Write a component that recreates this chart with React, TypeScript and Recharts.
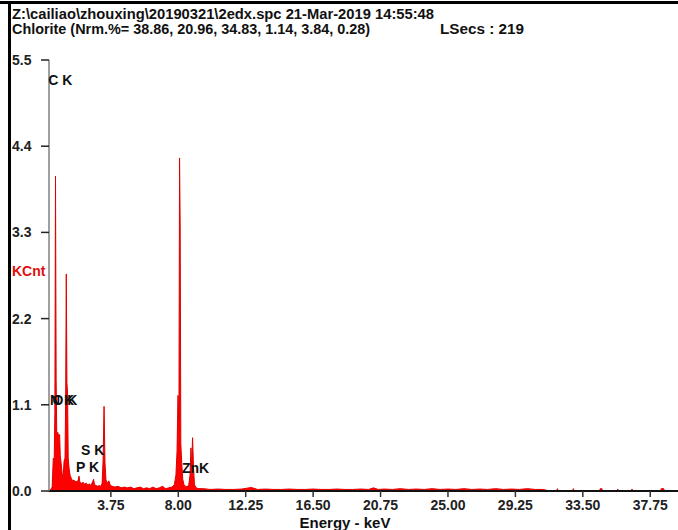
import React from 'react';
import { AreaChart, Area, XAxis, YAxis, ReferenceDot } from 'recharts';

// Energy (keV) and counts (KCnt)
const energy = [
  -0.1, 0.05, 0.12, 0.18, 0.22, 0.26, 0.3, 0.34, 0.4, 0.46, 0.52, 0.56, 0.6, 0.64, 0.68, 0.74,
  0.8, 0.86, 0.9, 0.94, 0.98, 1.02, 1.06, 1.12, 1.18, 1.26, 1.34, 1.42, 1.5, 1.62, 1.7, 1.74,
  1.8, 1.9, 2.0, 2.1, 2.2, 2.3, 2.4, 2.5, 2.6, 2.66, 2.72, 2.82, 2.92, 3.02, 3.12, 3.2,
  3.26, 3.32, 3.38, 3.44, 3.52, 3.62, 3.72, 3.85, 4.0, 4.2, 4.4, 4.6, 4.8, 5.0, 5.2, 5.4,
  5.6, 5.8, 6.0, 6.2, 6.4, 6.6, 6.8, 7.0, 7.2, 7.4, 7.6, 7.75, 7.85, 7.92, 7.98, 8.04,
  8.08, 8.12, 8.16, 8.22, 8.28, 8.36, 8.46, 8.56, 8.66, 8.74, 8.8, 8.84, 8.9, 8.96, 9.02, 9.12,
  9.3, 9.6, 10.0, 10.5, 11.0, 11.5, 12.0, 12.6, 13.0, 13.5, 14.0, 14.5, 15.0, 15.5, 16.0, 16.5,
  17.0, 17.5, 18.0, 18.5, 19.0, 19.5, 20.0, 20.3, 20.6, 21.0, 21.5, 22.0, 22.5, 23.0, 23.5, 24.0,
  24.5, 25.0, 25.5, 26.0, 26.5, 27.0, 27.5, 28.0, 28.5, 29.0, 29.5, 30.0, 30.5, 31.0, 31.2, 31.3,
  31.85, 31.9, 31.95, 32.85, 32.9, 32.95, 34.55, 34.6, 34.7, 34.75, 35.65, 35.7, 35.75, 36.55, 36.6, 36.65,
  38.4, 38.45, 38.6, 38.65, 39.5,
];
const counts = [
  0, 0.05, 0.42, 0.4, 1.0, 4.02, 1.42, 0.72, 0.75, 0.7, 0.72, 0.45, 0.38, 0.3, 0.22, 0.16,
  0.38, 0.42, 1.2, 2.77, 1.38, 1.25, 0.42, 0.28, 0.2, 0.16, 0.13, 0.14, 0.12, 0.12, 0.14, 0.19,
  0.11, 0.1, 0.11, 0.09, 0.1, 0.08, 0.09, 0.07, 0.12, 0.15, 0.08, 0.07, 0.06, 0.07, 0.06, 0.1,
  0.4, 1.08, 0.36, 0.14, 0.1, 0.13, 0.07, 0.06, 0.05, 0.06, 0.04, 0.05, 0.04, 0.05, 0.03, 0.04,
  0.05, 0.03, 0.04, 0.03, 0.05, 0.03, 0.04, 0.06, 0.03, 0.04, 0.05, 0.08, 0.2, 0.5, 1.22, 0.9,
  4.25, 3.36, 0.6, 0.35, 0.15, 0.08, 0.06, 0.05, 0.08, 0.2, 0.55, 0.3, 0.68, 0.3, 0.08, 0.04,
  0.03, 0.03, 0.02, 0.025, 0.02, 0.02, 0.025, 0.045, 0.02, 0.025, 0.02, 0.02, 0.025, 0.02, 0.02, 0.025,
  0.02, 0.02, 0.025, 0.02, 0.02, 0.025, 0.02, 0.04, 0.02, 0.025, 0.02, 0.03, 0.02, 0.025, 0.02, 0.03,
  0.02, 0.025, 0.02, 0.03, 0.02, 0.025, 0.02, 0.03, 0.02, 0.025, 0.02, 0.03, 0.02, 0.02, 0.01, 0,
  0, 0.03, 0, 0, 0.03, 0, 0, 0.03, 0.03, 0, 0, 0.025, 0, 0, 0.025, 0,
  0, 0.03, 0.03, 0, 0,
];

const xTicks = [3.75, 8.0, 12.25, 16.5, 20.75, 25.0, 29.25, 33.5, 37.75];
const yTicks = [0, 1.1, 2.2, 3.3, 4.4, 5.5];

const peakLabels = ['C K', 'N K', 'O K', 'S K', 'P K', 'ZnK'];
const peakLabelEnergy = [-0.2, -0.09, 0.07, 1.87, 1.55, 8.23];
const peakLabelHeight = [5.18, 1.1, 1.1, 0.46, 0.24, 0.23];

const titleLine1 = 'Z:\\cailiao\\zhouxing\\20190321\\2edx.spc  21-Mar-2019 14:55:48';
const titleLine2 = 'Chlorite (Nrm.%= 38.86, 20.96, 34.83, 1.14, 3.84, 0.28)';
const liveTime = 'LSecs : 219';
const yTitle = 'KCnt';
const xTitle = 'Energy - keV';

const data = energy.map((e, i) => ({ e, c: counts[i] }));

const FONT = '"Liberation Sans", Arial, Helvetica, sans-serif';

const YTick = (props: any) => {
  const { y, payload } = props;
  return (
    <text x={12} y={y + 5} fontFamily={FONT} fontWeight="bold" fontSize={14} fill="#222" textAnchor="start">
      {Number(payload.value).toFixed(1)}
    </text>
  );
};

export default function App() {
  return (
    <div style={{ position: 'absolute', left: 0, top: 0, width: 678, height: 530, background: '#fff' }}>
      <AreaChart width={678} height={530} data={data} margin={{ top: 60, right: 0, left: 0, bottom: 0 }}>
        <XAxis
          dataKey="e"
          type="number"
          domain={[-0.15, 39.5]}
          ticks={xTicks}
          allowDataOverflow
          tickFormatter={(v: number) => v.toFixed(2)}
          height={39}
          tickSize={6}
          tickMargin={3}
          axisLine={{ stroke: '#111', strokeWidth: 2 }}
          tickLine={{ stroke: '#333', strokeWidth: 1.5 }}
          tick={{ fontFamily: FONT, fontWeight: 'bold', fontSize: 14, fill: '#222' }}
          interval={0}
        />
        <YAxis
          type="number"
          domain={[0, 5.5]}
          ticks={yTicks}
          width={49}
          tickSize={8}
          axisLine={{ stroke: '#808080', strokeWidth: 1.5 }}
          tickLine={{ stroke: '#222', strokeWidth: 1.5 }}
          tick={<YTick />}
          interval={0}
        />
        <Area
          dataKey="c"
          type="linear"
          stroke="#e00000"
          strokeWidth={1}
          fill="#ff0000"
          fillOpacity={1}
          dot={false}
          activeDot={false}
          isAnimationActive={false}
        />
        {peakLabels.map((t, i) => (
          <ReferenceDot
            key={t}
            x={peakLabelEnergy[i]}
            y={peakLabelHeight[i]}
            r={0}
            ifOverflow="visible"
            shape={(p: any) => (
              <text x={p.cx} y={p.cy} fontFamily={FONT} fontWeight="bold" fontSize={14} fill="#111" textAnchor="start">
                {t}
              </text>
            )}
          />
        ))}
      </AreaChart>
      <svg width={678} height={530} style={{ position: 'absolute', left: 0, top: 0, pointerEvents: 'none' }}>
        <rect x={0} y={1} width={678} height={3} fill="#000" />
        <rect x={8} y={1} width={3} height={529} fill="#000" />
        <text x={12} y={19} fontFamily={FONT} fontWeight="bold" fontSize={14} fill="#111" textLength={422} lengthAdjust="spacingAndGlyphs">
          {titleLine1}
        </text>
        <text x={12} y={34} fontFamily={FONT} fontWeight="bold" fontSize={14} fill="#111" textLength={358} lengthAdjust="spacingAndGlyphs">
          {titleLine2}
        </text>
        <text x={440} y={34} fontFamily={FONT} fontWeight="bold" fontSize={14} fill="#111" textLength={84} lengthAdjust="spacingAndGlyphs">
          {liveTime}
        </text>
        <text x={12} y={276} fontFamily={FONT} fontWeight="bold" fontSize={14} fill="#e01010">
          {yTitle}
        </text>
        <text x={345} y={528} fontFamily={FONT} fontWeight="bold" fontSize={15} fill="#111" textAnchor="middle">
          {xTitle}
        </text>
      </svg>
    </div>
  );
}
